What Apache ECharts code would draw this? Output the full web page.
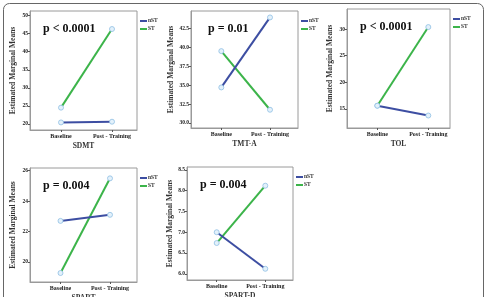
<!DOCTYPE html>
<html>
<head>
<meta charset="utf-8">
<script src="https://cdn.jsdelivr.net/npm/echarts@6/dist/echarts.min.js"></script>
<style>
  html, body { margin: 0; padding: 0; background: #fff; }
  #chart { width: 487px; height: 297px; }
</style>
</head>
<body>
<div id="chart"></div>
<script>
// data
var categories = ['Baseline', 'Post - Training'];
var groups = ['nST', 'ST'];

var panelNames = ['SDMT', 'TMT-A', 'TOL', 'SPART', 'SPART-D'];
var pLabels = ['p < 0.0001', 'p = 0.01', 'p < 0.0001', 'p = 0.004', 'p = 0.004'];

var nstValues = [
    [20.4, 20.6],
    [34.7, 43.95],
    [15.6, 13.75],
    [22.7, 23.1],
    [7.0, 6.12]
];
var stValues = [
    [24.5, 46.3],
    [39.5, 31.75],
    [15.6, 30.4],
    [19.27, 25.5],
    [6.74, 8.12]
];

var yTicks = [
    [20, 25, 30, 35, 40, 45, 50],
    [30, 32.5, 35, 37.5, 40, 42.5],
    [15, 20, 25, 30],
    [20, 22, 24, 26],
    [6.0, 6.5, 7.0, 7.5, 8.0, 8.5]
];
var yDecimals = [0, 1, 0, 0, 1];
var yRange = [
    [18.3, 51.3],
    [29.34, 44.8],
    [11.4, 33.8],
    [18.68, 26.18],
    [5.85, 8.57]
];

// layout: plot box (px) and where the two categories sit
var layout = [
    { left: 30, top: 11, width: 107, height: 119, bx: 61, px: 112 },
    { left: 191, top: 11, width: 107, height: 117, bx: 221.3, px: 270 },
    { left: 347, top: 9, width: 103, height: 119, bx: 377.3, px: 428.3 },
    { left: 30, top: 168, width: 107, height: 114, bx: 60.5, px: 110 },
    { left: 187, top: 167, width: 106, height: 113, bx: 216.7, px: 265.3 }
];

var BLUE = '#3d4ea2';
var GREEN = '#3cb44a';
var SERIF = '"Liberation Serif", "DejaVu Serif", serif';

var chart = echarts.init(document.getElementById('chart'));

var grids = [], xAxes = [], yAxes = [], series = [], legends = [], graphics = [];

// outer frame round the whole figure
graphics.push({
    type: 'rect',
    shape: { x: 3.5, y: 3.5, width: 480, height: 320, r: 6 },
    style: { fill: 'none', stroke: '#666', lineWidth: 1 },
    silent: true
});

layout.forEach(function (g, i) {
    var step = g.px - g.bx;
    var xMin = -(g.bx - g.left) / step;
    var xMax = 1 + (g.left + g.width - g.px) / step;

    grids.push({
        left: g.left, top: g.top, width: g.width, height: g.height,
        outerBoundsMode: 'none',
        show: true, borderColor: '#9a9a9a', borderWidth: 1, backgroundColor: '#fff'
    });

    xAxes.push({
        type: 'value', gridIndex: i, min: xMin, max: xMax,
        name: panelNames[i], nameLocation: 'middle', nameGap: 12,
        nameTextStyle: { fontFamily: SERIF, fontWeight: 'bold', fontSize: 7.5, color: '#333' },
        axisLine: { show: true, onZero: false, lineStyle: { color: '#9a9a9a' } },
        axisTick: { show: true, length: 2, lineStyle: { color: '#555' }, customValues: [0, 1] },
        axisLabel: {
            customValues: [0, 1], margin: 3,
            fontFamily: SERIF, fontWeight: 'bold', fontSize: 6, color: '#222',
            formatter: function (v) { return categories[Math.round(v)]; }
        },
        splitLine: { show: false }
    });

    yAxes.push({
        type: 'value', gridIndex: i, min: yRange[i][0], max: yRange[i][1],
        name: 'Estimated Marginal Means', nameLocation: 'middle', nameGap: 13,
        nameTextStyle: { fontFamily: SERIF, fontWeight: 'bold', fontSize: 7.5, color: '#333' },
        axisLine: { show: true, onZero: false, lineStyle: { color: '#9a9a9a' } },
        axisTick: { show: true, length: 2, lineStyle: { color: '#555' }, customValues: yTicks[i] },
        axisLabel: {
            customValues: yTicks[i], margin: 2,
            fontFamily: SERIF, fontWeight: 'bold', fontSize: 5.5, color: '#222',
            formatter: (function (d) { return function (v) { return v.toFixed(d); }; })(yDecimals[i])
        },
        splitLine: { show: false }
    });

    [nstValues, stValues].forEach(function (vals, k) {
        var pts = vals[i].map(function (v, j) { return [j, v]; });
        // the line
        series.push({
            name: groups[k], type: 'line', xAxisIndex: i, yAxisIndex: i,
            data: pts, symbol: 'none',
            color: k === 0 ? BLUE : GREEN,
            lineStyle: { color: k === 0 ? BLUE : GREEN, width: 2 },
            z: k === 0 ? 3 : 2
        });
        // open circle markers
        series.push({
            type: 'scatter', xAxisIndex: i, yAxisIndex: i,
            data: pts, symbol: 'circle', symbolSize: 5,
            itemStyle: { color: '#e3f1fb', borderColor: '#8fbfe3', borderWidth: 0.8, opacity: 1 },
            z: 5
        });
    });

    legends.push({
        orient: 'vertical', left: g.left + g.width + 3, top: g.top + 7,
        icon: 'rect', itemWidth: 7, itemHeight: 2, itemGap: 2, padding: 0,
        selectedMode: false,
        textStyle: { fontFamily: SERIF, fontWeight: 'bold', fontSize: 5.5, color: '#333', padding: [0, 0, 0, -4] },
        data: ['nST', 'ST']
    });

    graphics.push({
        type: 'text',
        left: g.left + (i === 1 ? 17 : 13), top: g.top + 12,
        style: { text: pLabels[i], font: 'bold 12px ' + SERIF, fill: '#111' },
        silent: true
    });
});

var option = {
    backgroundColor: '#fff',
    animation: false,
    grid: grids,
    xAxis: xAxes,
    yAxis: yAxes,
    legend: legends,
    series: series,
    graphic: graphics
};

option && chart.setOption(option);
</script>
</body>
</html>
